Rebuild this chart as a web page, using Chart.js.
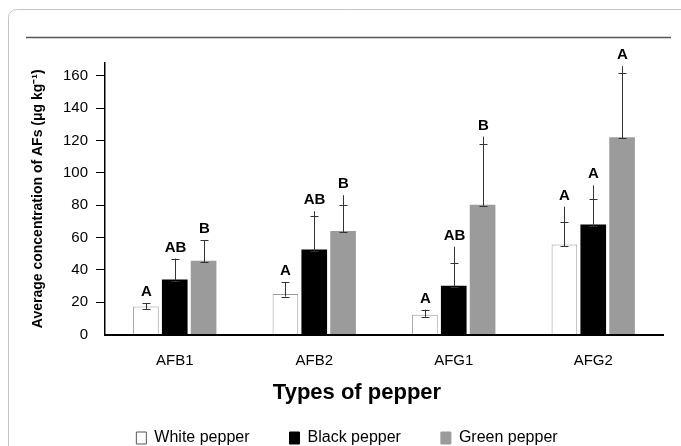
<!DOCTYPE html>
<html>
<head>
<meta charset="utf-8">
<script src="https://cdn.jsdelivr.net/npm/chart.js@4.4.1/dist/chart.umd.min.js"></script>
<style>
  html, body { margin: 0; padding: 0; background: #fff; }
  #wrap { width: 681px; height: 446px; position: relative; }
</style>
</head>
<body>
<div id="wrap"><canvas id="chart"></canvas></div>
<script>
// data
const categories = ['AFB1', 'AFB2', 'AFG1', 'AFG2'];
const seriesNames = ['White pepper', 'Black pepper', 'Green pepper'];
const whitePepper = [17.4, 25, 12.2, 55.7];
const blackPepper = [34, 52.6, 30.2, 68];
const greenPepper = [45.7, 64, 80.3, 122];

// error bars: lower cap, crossing cap, end of the whisker
const whiteErrLow = [15.8, 23.5, 10.9, 54.7];
const whiteErrCap = [19.3, 32.4, 15.4, 69.6];
const whiteErrTop = [19.3, 32.4, 15.4, 79];
const blackErrLow = [33.4, 51.6, 29.6, 67];
const blackErrCap = [47, 73.2, 44.2, 83.6];
const blackErrTop = [47, 76.3, 54.3, 92.3];
const greenErrLow = [44.7, 63.2, 79.7, 121.3];
const greenErrCap = [58.3, 80.4, 117.6, 162];
const greenErrTop = [58.3, 86.2, 122.4, 166];

// significance letters
const whiteLetters = ['A', 'A', 'A', 'A'];
const blackLetters = ['AB', 'AB', 'AB', 'A'];
const greenLetters = ['B', 'B', 'B', 'A'];

const yMin = 0;
const yMax = 168;
const yStep = 20;

const xTitle = 'Types of pepper';
const yTitle = 'Average concentration of AFs (μg kg⁻¹)';

const FONT = "'Liberation Sans', Arial, sans-serif";

// card frame and rule at the top
const framePlugin = {
  id: 'frame',
  beforeDraw(chart) {
    const ctx = chart.ctx;
    ctx.save();
    ctx.strokeStyle = '#c4c4c4';
    ctx.lineWidth = 1;
    ctx.beginPath();
    ctx.roundRect(8.5, 9.5, 720, 480, 8);
    ctx.stroke();
    ctx.strokeStyle = '#555';
    ctx.lineWidth = 1.5;
    ctx.beginPath();
    ctx.moveTo(26, 37.5);
    ctx.lineTo(671, 37.5);
    ctx.stroke();
    ctx.restore();
  }
};

// x axis title sits a bit left of the plot centre in the original
const xTitlePlugin = {
  id: 'xTitle',
  afterDraw(chart) {
    const { ctx, chartArea } = chart;
    ctx.save();
    ctx.fillStyle = '#000';
    ctx.font = 'bold 22px ' + FONT;
    ctx.textAlign = 'center';
    ctx.textBaseline = 'middle';
    ctx.fillText(xTitle, (chartArea.left + chartArea.right) / 2 - 27, chartArea.bottom + 58);
    ctx.restore();
  }
};

// error bars + letters
const errorBarPlugin = {
  id: 'errorBars',
  afterDatasetsDraw(chart) {
    const ctx = chart.ctx;
    const y = chart.scales.y;
    ctx.save();
    chart.data.datasets.forEach((ds, di) => {
      const meta = chart.getDatasetMeta(di);
      meta.data.forEach((bar, i) => {
        const x = Math.round(bar.x) + 0.5;
        const yLow = y.getPixelForValue(ds.errLow[i]);
        const yCap = y.getPixelForValue(ds.errCap[i]);
        const yTop = y.getPixelForValue(ds.errTop[i]);
        ctx.strokeStyle = '#333';
        ctx.lineWidth = 1;
        ctx.beginPath();
        ctx.moveTo(x, yLow);
        ctx.lineTo(x, yTop);
        ctx.moveTo(x - 4, Math.round(yLow) + 0.5);
        ctx.lineTo(x + 4, Math.round(yLow) + 0.5);
        ctx.moveTo(x - 4, Math.round(yCap) + 0.5);
        ctx.lineTo(x + 4, Math.round(yCap) + 0.5);
        ctx.stroke();

        ctx.fillStyle = '#000';
        ctx.font = 'bold 15px ' + FONT;
        ctx.textAlign = 'center';
        ctx.textBaseline = 'middle';
        ctx.fillText(ds.letters[i], x, yTop - 11);
      });
    });
    ctx.restore();
  }
};

new Chart(document.getElementById('chart'), {
  type: 'bar',
  data: {
    labels: categories,
    datasets: [
      {
        label: seriesNames[0],
        data: whitePepper,
        backgroundColor: '#ffffff',
        borderColor: '#9a9a9a',
        borderWidth: 1,
        errLow: whiteErrLow, errCap: whiteErrCap, errTop: whiteErrTop,
        letters: whiteLetters
      },
      {
        label: seriesNames[1],
        data: blackPepper,
        backgroundColor: '#000000',
        borderColor: '#000000',
        borderWidth: 0,
        errLow: blackErrLow, errCap: blackErrCap, errTop: blackErrTop,
        letters: blackLetters
      },
      {
        label: seriesNames[2],
        data: greenPepper,
        backgroundColor: '#9b9b9b',
        borderColor: '#9b9b9b',
        borderWidth: 0,
        errLow: greenErrLow, errCap: greenErrCap, errTop: greenErrTop,
        letters: greenLetters
      }
    ]
  },
  options: {
    responsive: true,
    maintainAspectRatio: false,
    animation: false,
    devicePixelRatio: 1,
    datasets: {
      bar: { categoryPercentage: 0.62, barPercentage: 0.89 }
    },
    layout: { padding: { left: 31, right: 18, top: 63, bottom: 0 } },
    scales: {
      x: {
        type: 'category',
        offset: true,
        grid: { display: false, drawTicks: false },
        border: { display: true, color: '#000', width: 2 },
        ticks: {
          padding: 17,
          maxRotation: 0,
          color: '#000',
          font: { family: FONT, size: 15 }
        },
        afterFit: s => { s.height = 55.5; }
      },
      y: {
        min: yMin,
        max: yMax,
        grid: {
          display: true,
          drawOnChartArea: false,
          drawTicks: true,
          tickLength: 9,
          color: c => (c.tick && c.tick.value === 0 ? 'rgba(0,0,0,0)' : '#000')
        },
        border: { display: true, color: '#000', width: 1.5 },
        ticks: {
          stepSize: yStep,
          includeBounds: false,
          padding: 8,
          color: '#000',
          font: { family: FONT, size: 15 }
        },
        title: {
          display: true,
          text: yTitle,
          color: '#000',
          font: { family: FONT, size: 14, weight: 'bold', lineHeight: 1 },
          padding: { top: 0, bottom: 0 }
        },
        afterFit: s => { s.width = 74; }
      }
    },
    plugins: {
      tooltip: { enabled: false },
      title: { display: false },
      legend: {
        position: 'bottom',
        maxHeight: 56,
        labels: {
          boxWidth: 10,
          boxHeight: 12,
          padding: 40,
          color: '#000',
          font: { family: FONT, size: 16 },
          generateLabels: chart => chart.data.datasets.map((ds, i) => ({
            text: ds.label,
            fillStyle: ds.backgroundColor,
            strokeStyle: i === 0 ? '#555' : ds.backgroundColor,
            lineWidth: 1,
            datasetIndex: i
          }))
        }
      }
    }
  },
  plugins: [framePlugin, errorBarPlugin, xTitlePlugin]
});
</script>
</body>
</html>
